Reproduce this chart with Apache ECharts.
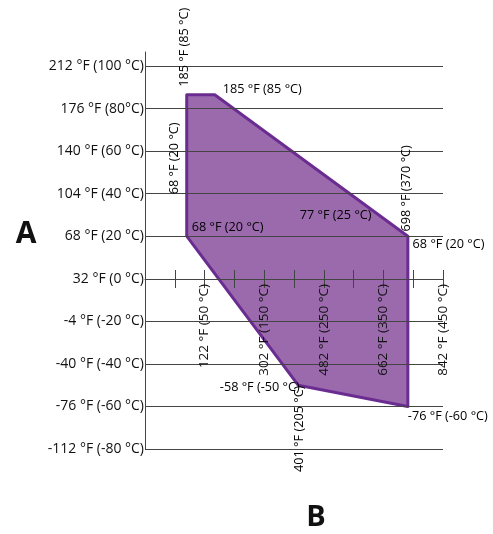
<!DOCTYPE html>
<html>
<head>
<meta charset="utf-8">
<script src="https://cdn.jsdelivr.net/npm/echarts@6/dist/echarts.min.js"></script>
<style>html,body{margin:0;padding:0;background:#fff}#c{width:493px;height:534px}</style>
</head>
<body>
<div id="c"></div>
<script>
// Y axis (°C) ticks and labels
var yTickLabels = {
  '100': '212 °F (100 °C)', '80': '176 °F (80°C)', '60': '140 °F (60 °C)', '40': '104 °F (40 °C)',
  '20': '68 °F (20 °C)', '0': '32 °F (0 °C)', '-20': '-4 °F (-20 °C)', '-40': '-40 °F (-40 °C)',
  '-60': '-76 °F (-60 °C)', '-80': '-112 °F (-80 °C)'
};
// X axis (°C) labelled ticks
var xTickLabels = {
  '50': '122 °F (50 °C)', '150': '302 °F (150 °C)', '250': '482 °F (250 °C)',
  '350': '662 °F (350 °C)', '450': '842 °F (450 °C)'
};
// Operating envelope polygon vertices (°C)
var polyX = [20, 20, 67, 391, 391, 207];
var polyY = [20, 86.5, 86.5, 20, -60, -50];
// Annotations: text, x (°C), y (°C), vertical?
var annText = ['185 °F (85 °C)', '185 °F (85 °C)', '68 °F (20 °C)', '68 °F (20 °C)', '77 °F (25 °C)',
               '698 °F (370 °C)', '68 °F (20 °C)', '-58 °F (-50 °C)', '401 °F (205 °C)', '-76 °F (-60 °C)'];
var annX = [16.8, 80.5, 0, 28.5, 209.7, 388, 399, 75.5, 209.7, 391];
var annY = [108.8, 88.8, 56.6, 24, 30, 42.5, 16, -51.2, -70.5, -64.8];
var annVertical = [true, false, true, false, false, true, false, false, true, false];

var chart = echarts.init(document.getElementById('c'));
var textColor = '#111';
var lineColor = '#444';
var font = 'Open Sans';

var annData = annText.map(function (t, i) {
  var v = annVertical[i];
  return {
    value: [annX[i], annY[i]],
    label: v ? { position: 'inside', rotate: 90, align: 'center', verticalAlign: 'middle' }
             : { position: 'right', distance: 0, align: 'left', verticalAlign: 'middle' }
  };
});

function hiddenAxis(gi) {
  return { gridIndex: gi, type: 'value', show: false, min: 0, max: 1 };
}

chart.setOption({
  animation: false,
  textStyle: { fontFamily: font },
  grid: [
    { left: 145, right: 50, top: 66, bottom: 85, outerBoundsMode: 'none', containLabel: false },
    { left: 145, width: 10, top: 52, bottom: 85, outerBoundsMode: 'none', containLabel: false },
    { left: 145, right: 50, top: 66, height: 213, outerBoundsMode: 'none', containLabel: false },
    { left: 145, right: 50, top: 279, bottom: 85, outerBoundsMode: 'none', containLabel: false }
  ],
  xAxis: [
    { gridIndex: 0, type: 'value', show: false, min: -50, max: 450, interval: 50 },
    hiddenAxis(1),
    {
      gridIndex: 2, type: 'value', min: -50, max: 450, interval: 50, position: 'bottom', z: 3,
      axisLine: { show: true, onZero: false, lineStyle: { color: lineColor, width: 1 } },
      axisTick: { show: true, length: 9, lineStyle: { color: lineColor } },
      axisLabel: {
        show: true, rotate: 90, margin: 5, color: textColor, fontSize: 13.5, fontFamily: font,
        formatter: function (v) { return xTickLabels[String(v)] || ''; }
      },
      splitLine: { show: false }
    },
    {
      gridIndex: 3, type: 'value', min: -50, max: 450, interval: 50, position: 'top', z: 3,
      axisLine: { show: false, onZero: false },
      axisTick: { show: true, length: 9, lineStyle: { color: lineColor } },
      axisLabel: { show: false },
      splitLine: { show: false }
    }
  ],
  yAxis: [
    {
      gridIndex: 0, type: 'value', min: -80, max: 100, interval: 20, z: 3,
      axisLine: { show: false },
      axisTick: { show: false },
      axisLabel: {
        margin: 1, color: textColor, fontSize: 14, fontFamily: font,
        formatter: function (v) { return yTickLabels[String(v)] || ''; }
      },
      splitLine: { show: true, lineStyle: { color: lineColor, width: 1 } }
    },
    {
      gridIndex: 1, type: 'value', min: 0, max: 1, position: 'left', z: 3,
      axisLine: { show: true, lineStyle: { color: lineColor, width: 1 } },
      axisTick: { show: false }, axisLabel: { show: false }, splitLine: { show: false }
    },
    hiddenAxis(2),
    hiddenAxis(3)
  ],
  series: [
    {
      type: 'custom', xAxisIndex: 0, yAxisIndex: 0, z: 1, clip: false,
      data: polyX.map(function (x, i) { return [x, polyY[i]]; }),
      encode: { x: 0, y: 1 },
      renderItem: function (params, api) {
        if (params.dataIndex !== 0) return null;
        var pts = polyX.map(function (x, i) { return api.coord([x, polyY[i]]); });
        return {
          type: 'polygon', shape: { points: pts },
          style: { fill: '#9b6aad', stroke: '#6b2c91', lineWidth: 3, lineJoin: 'round' }
        };
      }
    },
    {
      type: 'scatter', xAxisIndex: 0, yAxisIndex: 0, z: 5, symbolSize: 0, clip: false,
      itemStyle: { color: '#000', opacity: 1 },
      label: {
        show: true, color: '#000', opacity: 1, fontSize: 12.7, fontFamily: font,
        formatter: function (p) { return annText[p.dataIndex]; }
      },
      data: annData
    }
  ],
  graphic: [
    { type: 'text', x: 26, y: 234, style: { text: 'A', font: 'bold 30px "Open Sans"', fill: '#111', textAlign: 'center', textVerticalAlign: 'middle' } },
    { type: 'text', x: 316, y: 518, style: { text: 'B', font: 'bold 29px "Open Sans"', fill: '#111', textAlign: 'center', textVerticalAlign: 'middle' } }
  ]
});
</script>
</body>
</html>
